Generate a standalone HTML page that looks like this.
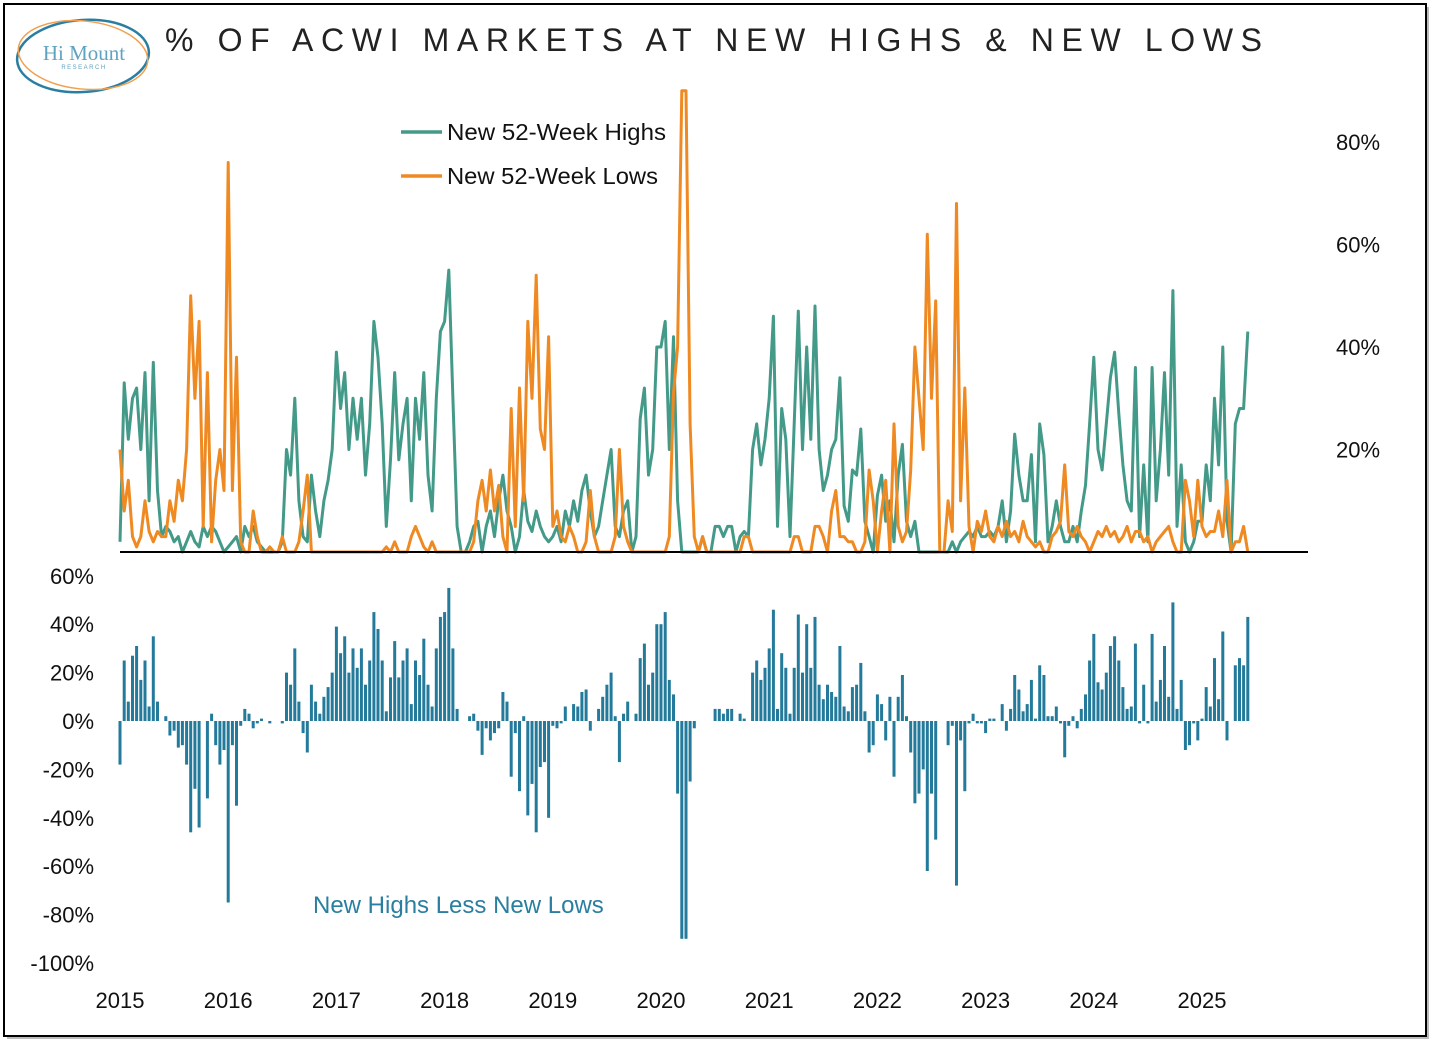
<!DOCTYPE html>
<html><head><meta charset="utf-8"><style>
body{margin:0;background:#fff;}
svg{display:block;font-family:"Liberation Sans",sans-serif;}
</style></head><body>
<svg id="chart" width="1439" height="1049" viewBox="0 0 1439 1049">
<rect x="7" y="7" width="1422" height="1032" fill="#bbb"/>
<rect x="4" y="4" width="1422" height="1032" fill="#fff" stroke="#000" stroke-width="2"/>
<g>
<ellipse cx="83" cy="56" rx="66" ry="36" fill="none" stroke="#2a7fa0" stroke-width="2.5" transform="rotate(-4 83 56)"/>
<ellipse cx="83" cy="55" rx="65" ry="34" fill="none" stroke="#f0a050" stroke-width="1.5" transform="rotate(6 83 55)"/>
<text x="84" y="60" text-anchor="middle" font-family="Liberation Serif,serif" font-size="21" fill="#5fa3c0">Hi Mount</text>
<text x="84" y="69" text-anchor="middle" font-size="6" letter-spacing="1.5" fill="#5fa3c0">RESEARCH</text>
</g>
<text x="165" y="51" font-size="32" textLength="1097" lengthAdjust="spacing" fill="#222">% OF ACWI MARKETS AT NEW HIGHS &amp; NEW LOWS</text>
<g>
<line x1="401" y1="132" x2="442" y2="132" stroke="#449a88" stroke-width="3.5"/>
<text x="447" y="140" font-size="23" textLength="219" lengthAdjust="spacingAndGlyphs" fill="#111">New 52-Week Highs</text>
<line x1="401" y1="176" x2="442" y2="176" stroke="#ef8a23" stroke-width="3.5"/>
<text x="447" y="184" font-size="23" textLength="211" lengthAdjust="spacingAndGlyphs" fill="#111">New 52-Week Lows</text>
</g>
<g id="upper"></g>
<g id="lower"></g>
<g id="axes"></g>
<text x="313" y="913" font-size="24" fill="#2a7fa0">New Highs Less New Lows</text>
</svg>
<script>
const highs = [
2,33,22,30,32,20,35,10,37,12,3,5,4,2,3,0,2,4,2,1,5,3,5,4,2,0,
1,2,3,0,5,3,5,2,1,0,0,0,0,2,20,15,30,10,3,2,15,8,3,10,14,20,
39,28,35,20,30,22,30,15,25,45,38,25,5,18,35,18,25,30,10,30,22,35,15,8,30,43,
45,55,30,5,0,0,2,5,6,0,5,8,3,10,15,8,5,0,3,12,6,4,8,5,3,2,
3,5,2,8,5,10,6,12,15,8,3,5,10,15,20,5,3,8,10,0,3,26,32,15,20,40,
40,45,20,42,10,0,0,0,0,0,3,0,0,5,5,3,5,5,0,3,4,3,20,25,17,22,
30,46,5,28,22,3,25,47,20,40,22,48,20,12,15,20,22,34,9,6,16,15,24,6,3,0,
11,15,6,10,2,15,21,6,3,6,0,0,0,0,0,0,0,0,2,0,2,3,4,3,5,3,
3,4,3,5,10,2,8,23,15,10,10,19,2,25,19,2,5,10,5,2,2,5,2,8,13,25,
38,20,16,25,34,39,27,17,10,8,36,3,17,2,36,10,20,35,15,51,5,17,2,0,2,6,
6,17,10,30,17,40,6,0,25,28,28,43];
const lows = [
20,8,14,3,1,3,10,4,2,4,3,3,10,6,14,10,20,50,30,45,5,35,2,14,20,12,
76,12,38,2,0,0,8,3,0,0,1,0,0,3,0,0,0,2,8,15,0,0,0,0,0,0,
0,0,0,0,0,0,0,0,0,0,0,0,1,0,2,0,0,0,3,5,3,1,0,2,0,0,
0,0,0,0,0,0,0,2,10,14,8,16,8,13,3,0,28,5,32,10,45,30,54,24,20,42,
5,8,3,2,5,3,0,0,2,12,3,0,0,0,0,3,20,5,2,0,0,0,0,0,0,0,
0,0,3,31,40,90,90,25,3,0,3,0,0,0,0,0,0,0,0,0,3,3,0,0,0,0,
0,0,0,0,0,0,3,3,0,0,0,5,5,3,0,8,12,3,3,2,2,0,0,2,16,10,
0,8,14,0,25,5,2,4,16,40,30,20,62,30,49,0,0,10,4,68,10,32,5,0,6,4,
8,3,2,5,3,6,3,4,2,6,3,2,1,2,0,0,3,4,6,17,4,3,5,3,2,0,
2,4,3,5,3,4,2,3,5,2,4,4,2,3,0,2,3,4,5,2,0,0,14,10,3,14,
5,3,4,4,8,3,14,0,2,2,5,0];
const yearTicks = [2015,2016,2017,2018,2019,2020,2021,2022,2023,2024,2025];
const rightTicks = [20,40,60,80];
const leftTicks = [60,40,20,0,-20,-40,-60,-80,-100];
const periodsPerYear = 26;

const NS='http://www.w3.org/2000/svg';
function xScale(year){return 120+(year-2015)*108.2;}
function xIdx(i){return xScale(2015+i/periodsPerYear);}
function yUp(v){return 552-v*5.125;}
function yLo(v){return 721-v*2.42;}
function mk(tag,attrs,parent){const e=document.createElementNS(NS,tag);for(const k in attrs)e.setAttribute(k,attrs[k]);parent.appendChild(e);return e;}

const upper=document.getElementById('upper');
const lower=document.getElementById('lower');
const axes=document.getElementById('axes');

const hl=mk('polyline',{points:highs.map((v,i)=>xIdx(i).toFixed(1)+','+yUp(v).toFixed(1)).join(' '),fill:'none',stroke:'#449a88','stroke-width':3,'stroke-linejoin':'round'},upper);


const ll=mk('polyline',{points:lows.map((v,i)=>xIdx(i).toFixed(1)+','+yUp(v).toFixed(1)).join(' '),fill:'none',stroke:'#ef8a23','stroke-width':3,'stroke-linejoin':'round'},upper);


const zl=mk('line',{x1:120,x2:1308,y1:552,y2:552,stroke:'#000','stroke-width':2},upper);



highs.forEach((h,i)=>{
  const d=h-lows[i];
  if(d===0)return;
  const y0=yLo(0),y1=yLo(d);
  const r=mk('rect',{x:(xIdx(i)-1.5).toFixed(1),y:Math.min(y0,y1).toFixed(1),width:3,height:Math.abs(y1-y0).toFixed(1),fill:'#237a9b'},lower);
  
  
});

rightTicks.forEach(v=>{
  const t=mk('text',{x:1336,y:(yUp(v)+8).toFixed(1),'font-size':22,fill:'#111'},axes);
  t.textContent=v+'%';
  
  
});
leftTicks.forEach(v=>{
  const t=mk('text',{x:94,y:(yLo(v)+8).toFixed(1),'font-size':22,fill:'#111','text-anchor':'end'},axes);
  t.textContent=v+'%';
  
  
});
yearTicks.forEach(yr=>{
  const t=mk('text',{x:xScale(yr).toFixed(1),y:1008,'font-size':22,fill:'#111','text-anchor':'middle'},axes);
  t.textContent=yr;
  
  
});
</script>
</body></html>
